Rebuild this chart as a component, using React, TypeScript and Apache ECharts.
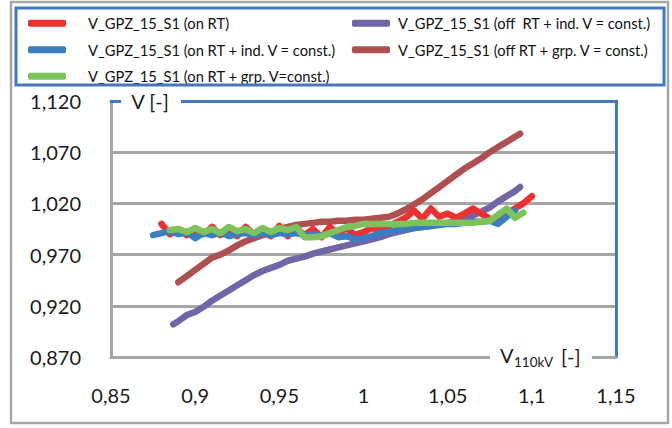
import React, { useEffect, useRef } from "react";
import * as echarts from "echarts";

const NAMES = [
  "V_GPZ_15_S1 (on RT)",
  "V_GPZ_15_S1 (on RT + ind. V = const.)",
  "V_GPZ_15_S1 (on RT + grp. V=const.)",
  "V_GPZ_15_S1 (off  RT + ind. V = const.)",
  "V_GPZ_15_S1 (off RT + grp. V = const.)",
];
const COLORS = ["#EE3030", "#3A7DC0", "#7DC35C", "#7165A8", "#B04F50"];

const xRed = [0.88, 0.885, 0.89, 0.895, 0.9, 0.905, 0.91, 0.915, 0.92, 0.925, 0.93, 0.935, 0.94, 0.945, 0.95, 0.955, 0.96, 0.965, 0.97, 0.975, 0.98, 0.985, 0.99, 0.995, 1.0, 1.005, 1.01, 1.015, 1.02, 1.025, 1.03, 1.035, 1.04, 1.045, 1.05, 1.055, 1.06, 1.065, 1.07, 1.075, 1.08, 1.085, 1.09, 1.095, 1.1];
const yRed = [1.0, 0.99, 0.995, 0.989, 0.993, 0.99, 0.997, 0.989, 0.993, 0.988, 0.997, 0.99, 0.993, 0.988, 0.998, 0.988, 0.996, 0.989, 0.995, 0.987, 0.997, 0.99, 0.996, 0.989, 0.992, 0.996, 0.994, 0.998, 1.002, 1.006, 1.013, 1.005, 1.015, 1.007, 1.01, 1.006, 1.01, 1.015, 1.01, 1.005, 1.004, 1.01, 1.015, 1.02, 1.027];

const xBlue = [0.875, 0.88, 0.885, 0.89, 0.895, 0.9, 0.905, 0.91, 0.915, 0.92, 0.925, 0.93, 0.935, 0.94, 0.945, 0.95, 0.955, 0.96, 0.965, 0.97, 0.975, 0.98, 0.985, 0.99, 0.995, 1.0, 1.005, 1.01, 1.015, 1.02, 1.025, 1.03, 1.035, 1.04, 1.045, 1.05, 1.055, 1.06, 1.065, 1.07, 1.075, 1.08, 1.085, 1.09];
const yBlue = [0.989, 0.991, 0.993, 0.99, 0.992, 0.986, 0.991, 0.989, 0.992, 0.988, 0.99, 0.991, 0.989, 0.991, 0.989, 0.991, 0.99, 0.991, 0.989, 0.99, 0.988, 0.991, 0.987, 0.988, 0.985, 0.986, 0.988, 0.991, 0.992, 0.994, 0.995, 0.996, 0.997, 0.998, 0.999, 1.0, 1.0, 1.001, 1.002, 1.002, 1.003, 1.0, 1.007, 1.013];

const xGreen = [0.885, 0.89, 0.895, 0.9, 0.905, 0.91, 0.915, 0.92, 0.925, 0.93, 0.935, 0.94, 0.945, 0.95, 0.955, 0.96, 0.965, 0.97, 0.975, 0.98, 0.985, 0.99, 0.995, 1.0, 1.005, 1.01, 1.015, 1.02, 1.025, 1.03, 1.035, 1.04, 1.045, 1.05, 1.055, 1.06, 1.065, 1.07, 1.075, 1.08, 1.085, 1.09, 1.095];
const yGreen = [0.994, 0.995, 0.992, 0.996, 0.992, 0.995, 0.991, 0.997, 0.993, 0.995, 0.991, 0.996, 0.992, 0.996, 0.994, 0.997, 0.987, 0.987, 0.988, 0.991, 0.994, 0.997, 0.998, 1.0, 1.0, 1.0, 1.0, 1.0, 1.0, 1.001, 1.001, 1.001, 1.001, 1.001, 1.001, 1.001, 1.001, 1.002, 1.003, 1.009, 1.015, 1.006, 1.011];

const xPurple = [0.887, 0.89, 0.895, 0.9, 0.905, 0.91, 0.915, 0.92, 0.925, 0.93, 0.935, 0.94, 0.945, 0.95, 0.955, 0.96, 0.965, 0.97, 0.975, 0.98, 0.985, 0.99, 0.995, 1.0, 1.005, 1.01, 1.015, 1.02, 1.025, 1.03, 1.035, 1.04, 1.045, 1.05, 1.055, 1.06, 1.065, 1.07, 1.075, 1.08, 1.085, 1.09, 1.093];
const yPurple = [0.902, 0.905, 0.911, 0.914, 0.919, 0.925, 0.93, 0.935, 0.94, 0.945, 0.95, 0.954, 0.957, 0.96, 0.964, 0.966, 0.968, 0.971, 0.973, 0.975, 0.977, 0.979, 0.981, 0.983, 0.985, 0.987, 0.99, 0.992, 0.994, 0.996, 0.997, 0.998, 1.0, 1.001, 1.003, 1.005, 1.008, 1.012, 1.016, 1.022, 1.027, 1.032, 1.036];

const xBrown = [0.89, 0.895, 0.9, 0.905, 0.91, 0.915, 0.92, 0.925, 0.93, 0.935, 0.94, 0.945, 0.95, 0.955, 0.96, 0.965, 0.97, 0.975, 0.98, 0.985, 0.99, 0.995, 1.0, 1.005, 1.01, 1.015, 1.02, 1.025, 1.03, 1.035, 1.04, 1.045, 1.05, 1.055, 1.06, 1.065, 1.07, 1.075, 1.08, 1.085, 1.09, 1.093];
const yBrown = [0.943, 0.949, 0.955, 0.961, 0.967, 0.97, 0.974, 0.979, 0.983, 0.986, 0.989, 0.992, 0.995, 0.997, 0.999, 1.0, 1.001, 1.002, 1.002, 1.003, 1.003, 1.004, 1.004, 1.005, 1.006, 1.007, 1.01, 1.014, 1.019, 1.024, 1.03, 1.036, 1.042, 1.048, 1.054, 1.059, 1.064, 1.07, 1.075, 1.08, 1.085, 1.088];

const X_MIN = 0.85, X_MAX = 1.15, X_STEP = 0.05;
const Y_MIN = 0.87, Y_MAX = 1.12, Y_STEP = 0.05;

const FONT = "Lato";
const BLUE = "#4178BE";
const GRAY = "#A6A6A6";

const pair = (xs: number[], ys: number[]) => xs.map((x, i) => [x, ys[i]]);

export default function App() {
  const ref = useRef<HTMLDivElement>(null);
  useEffect(() => {
    if (!ref.current) return;
    const chart = echarts.init(ref.current, null, { renderer: "svg" });
    const seriesData = [
      pair(xRed, yRed),
      pair(xBlue, yBlue),
      pair(xGreen, yGreen),
      pair(xPurple, yPurple),
      pair(xBrown, yBrown),
    ];
    const drawOrder = [4, 3, 0, 1, 2];
    const series = drawOrder.map((i) => ({
      type: "line",
      name: NAMES[i],
      data: seriesData[i],
      showSymbol: false,
      symbol: "none",
      color: COLORS[i],
      lineStyle: { width: 6.5, color: COLORS[i], cap: "round", join: "round" },
      z: 3,
    }));
    const legendCommon = {
      orient: "vertical",
      top: 5,
      padding: [5, 0, 5, 0],
      itemWidth: 38,
      itemHeight: 7,
      itemGap: 0,
      icon: "roundRect",
      selectedMode: false,
    };
    chart.setOption({
      animation: false,
      backgroundColor: "#ffffff",
      textStyle: { fontFamily: FONT },
      legend: [
        {
          ...legendCommon,
          left: 28,
          data: [NAMES[0], NAMES[1], NAMES[2]],
          textStyle: { fontFamily: FONT, fontSize: 14.7, color: "#111", lineHeight: 26.5, padding: [0, 0, 0, 17] },
        },
        {
          ...legendCommon,
          left: 352,
          data: [NAMES[3], NAMES[4]],
          textStyle: { fontFamily: FONT, fontSize: 14.7, color: "#111", lineHeight: 26.5, padding: [0, 0, 0, 3] },
        },
      ],
      grid: { left: 111, right: 56, top: 101, bottom: 71, containLabel: false },
      xAxis: [
        {
          type: "value",
          min: X_MIN,
          max: X_MAX,
          interval: X_STEP,
          position: "bottom",
          axisLine: { show: true, lineStyle: { color: GRAY, width: 3 } },
          axisTick: { show: false },
          splitLine: { show: false },
          axisLabel: {
            margin: 28,
            fontFamily: FONT,
            fontSize: 20,
            color: "#1a1a1a",
            formatter: (v: number) => String(+v.toFixed(2)).replace(".", ","),
          },
        },
        {
          type: "value",
          min: X_MIN,
          max: X_MAX,
          position: "top",
          axisLine: { show: true, lineStyle: { color: BLUE, width: 3 } },
          axisTick: { show: false },
          splitLine: { show: false },
          axisLabel: { show: false },
        },
      ],
      yAxis: [
        {
          type: "value",
          min: Y_MIN,
          max: Y_MAX,
          interval: Y_STEP,
          position: "left",
          axisLine: { show: true, lineStyle: { color: GRAY, width: 3 } },
          axisTick: { show: false },
          splitLine: { show: true, lineStyle: { color: GRAY, width: 3 } },
          axisLabel: {
            margin: 30,
            fontFamily: FONT,
            fontSize: 20,
            color: "#1a1a1a",
            formatter: (v: number) => v.toFixed(3).replace(".", ","),
          },
        },
        {
          type: "value",
          min: Y_MIN,
          max: Y_MAX,
          position: "right",
          axisLine: { show: true, lineStyle: { color: BLUE, width: 3 } },
          axisTick: { show: false },
          splitLine: { show: false },
          axisLabel: { show: false },
        },
      ],
      graphic: [
        {
          type: "rect",
          z: 100,
          shape: { x: 11, y: 2, width: 657, height: 421 },
          style: { fill: "none", stroke: GRAY, lineWidth: 2.5 },
          silent: true,
        },
        {
          type: "rect",
          z: 100,
          shape: { x: 16, y: 8, width: 648, height: 77 },
          style: { fill: "none", stroke: BLUE, lineWidth: 3 },
          silent: true,
        },
        {
          type: "rect",
          z: 100,
          shape: { x: 121, y: 94, width: 60, height: 14 },
          style: { fill: "#ffffff" },
          silent: true,
        },
        {
          type: "text",
          z: 101,
          x: 150,
          y: 101,
          style: {
            text: "V [-]",
            fontFamily: FONT,
            fontSize: 20,
            fill: "#1a1a1a",
            align: "center",
            verticalAlign: "middle",
          },
          silent: true,
        },
        {
          type: "rect",
          z: 100,
          shape: { x: 490, y: 350, width: 102, height: 14 },
          style: { fill: "#ffffff" },
          silent: true,
        },
        {
          type: "text",
          z: 101,
          x: 500,
          y: 365,
          style: { text: "V", fontFamily: FONT, fontSize: 20, fill: "#1a1a1a", align: "left", verticalAlign: "bottom" },
          silent: true,
        },
        {
          type: "text",
          z: 101,
          x: 514,
          y: 369,
          style: { text: "110kV", fontFamily: FONT, fontSize: 13.5, fill: "#1a1a1a", align: "left", verticalAlign: "bottom" },
          silent: true,
        },
        {
          type: "text",
          z: 101,
          x: 561,
          y: 366,
          style: { text: "[-]", fontFamily: FONT, fontSize: 20, fill: "#1a1a1a", align: "left", verticalAlign: "bottom" },
          silent: true,
        },
      ],
      series,
    });
    return () => chart.dispose();
  }, []);
  return (
    <div
      ref={ref}
      style={{ position: "fixed", left: 0, top: 0, width: 672, height: 428 }}
    />
  );
}
